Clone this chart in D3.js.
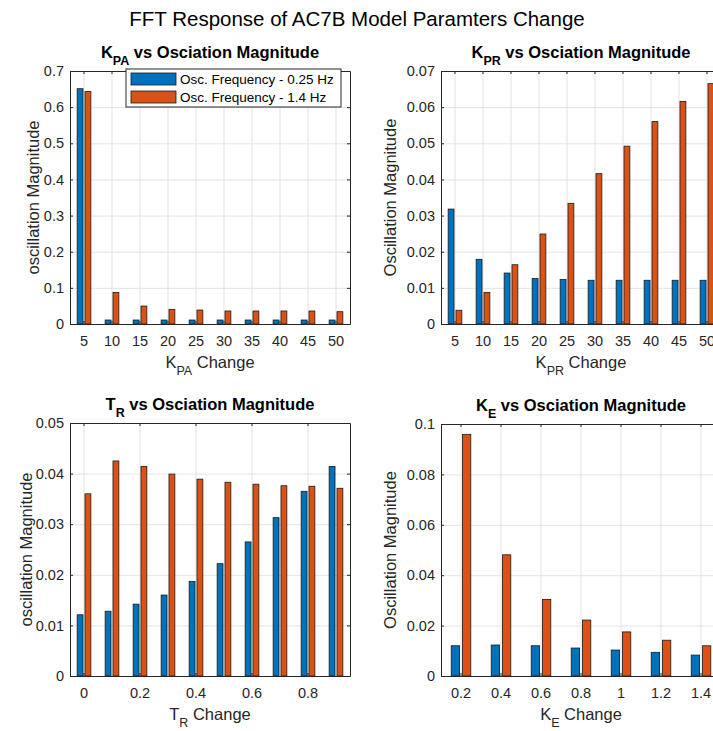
<!DOCTYPE html>
<html>
<head>
<meta charset="utf-8">
<script src="https://cdn.jsdelivr.net/npm/d3@7/dist/d3.min.js"></script>
<style>
  body { margin: 0; background: #fff; }
  text { font-family: "Liberation Sans", Arial, Helvetica, sans-serif; }
  .grid line { stroke: #e3e3e3; stroke-width: 1; }
  .grid path { display: none; }
  .ax path, .ax line { stroke: #262626; stroke-width: 1; }
  .ax text { fill: #262626; font-size: 14.5px; }
</style>
</head>
<body>
<script>
/* global d3 */

const width = 713
const height = 731
const colors = ['#0072BD', '#D95319']
const seriesNames = ['Osc. Frequency - 0.25 Hz', 'Osc. Frequency - 1.4 Hz']

// K_PA panel
const kpaCats = [5, 10, 15, 20, 25, 30, 35, 40, 45, 50]
const kpaLow = [0.651, 0.011, 0.011, 0.011, 0.011, 0.011, 0.011, 0.011, 0.011, 0.011]
const kpaHigh = [0.643, 0.0875, 0.0497, 0.0405, 0.0387, 0.036, 0.036, 0.036, 0.036, 0.034]
const kpaYTicks = [0, 0.1, 0.2, 0.3, 0.4, 0.5, 0.6, 0.7]

// K_PR panel
const kprCats = [5, 10, 15, 20, 25, 30, 35, 40, 45, 50]
const kprLow = [0.0318, 0.0179, 0.0141, 0.0126, 0.0123, 0.0121, 0.0121, 0.0121, 0.0121, 0.0121]
const kprHigh = [0.0038, 0.0087, 0.0164, 0.0249, 0.0334, 0.0416, 0.0492, 0.056, 0.0616, 0.0665]
const kprYTicks = [0, 0.01, 0.02, 0.03, 0.04, 0.05, 0.06, 0.07]

// T_R panel
const trCats = [0, 0.1, 0.2, 0.3, 0.4, 0.5, 0.6, 0.7, 0.8, 0.9]
const trLow = [0.0121, 0.0128, 0.0142, 0.016, 0.0187, 0.0222, 0.0265, 0.0313, 0.0365, 0.0414]
const trHigh = [0.036, 0.0425, 0.0414, 0.0399, 0.0389, 0.0383, 0.0379, 0.0376, 0.0375, 0.0371]
const trXTicks = [0, 0.2, 0.4, 0.6, 0.8]
const trYTicks = [0, 0.01, 0.02, 0.03, 0.04, 0.05]

// K_E panel
const keCats = [0.2, 0.4, 0.6, 0.8, 1, 1.2, 1.4]
const keLow = [0.012, 0.0123, 0.012, 0.0111, 0.0103, 0.0094, 0.0083]
const keHigh = [0.0959, 0.0481, 0.0304, 0.0222, 0.0175, 0.0142, 0.012]
const keYTicks = [0, 0.02, 0.04, 0.06, 0.08, 0.1]

const fmt = d3.format('~g')

const svg = d3.select('body').append('svg')
  .attr('width', width)
  .attr('height', height)

svg.append('rect').attr('width', width).attr('height', height).attr('fill', '#fff')

svg.append('text')
  .attr('x', 357)
  .attr('y', 26)
  .attr('text-anchor', 'middle')
  .style('font-size', '20.5px')
  .style('fill', '#000')
  .text('FFT Response of AC7B Model Paramters Change')

// text with a subscript: main, sub, rest
function subText (sel, parts, size, subSize) {
  sel.append('tspan').text(parts[0])
  sel.append('tspan').attr('dy', size * 0.4).style('font-size', subSize + 'px').text(parts[1])
  sel.append('tspan').attr('dy', -size * 0.4).text(parts[2])
}

function drawPanel (cfg) {
  const w = 280
  const h = cfg.h
  const g = svg.append('g').attr('transform', 'translate(' + cfg.left + ',' + cfg.top + ')')

  const x0 = d3.scaleBand().domain(cfg.cats).range([0, w])
    .paddingInner(0.51).paddingOuter(0.255)
  const x1 = d3.scaleBand().domain([0, 1]).range([0, x0.bandwidth()]).paddingInner(0.25)
  const y = d3.scaleLinear().domain([0, cfg.yMax]).range([h, 0])
  const xTicks = cfg.xTicks || cfg.cats

  // grid
  g.append('g').attr('class', 'grid')
    .call(d3.axisLeft(y).tickValues(cfg.yTicks).tickSize(-w).tickFormat(''))
  g.append('g').attr('class', 'grid')
    .attr('transform', 'translate(0,' + h + ')')
    .call(d3.axisBottom(x0).tickValues(xTicks).tickSize(-h).tickFormat(''))

  // bars
  const groups = g.selectAll('.grp')
    .data(cfg.cats.map(function (c, i) { return { cat: c, vals: [cfg.low[i], cfg.high[i]] } }))
    .enter().append('g')
    .attr('transform', function (d) { return 'translate(' + x0(d.cat) + ',0)' })
  groups.selectAll('rect')
    .data(function (d) { return d.vals.map(function (v, k) { return { k: k, v: v } }) })
    .enter().append('rect')
    .attr('x', function (d) { return x1(d.k) })
    .attr('width', x1.bandwidth())
    .attr('y', function (d) { return y(d.v) })
    .attr('height', function (d) { return h - y(d.v) })
    .attr('fill', function (d) { return colors[d.k] })
    .attr('stroke', '#1a1a1a')
    .attr('stroke-width', 0.8)

  // axes (ticks pointing inward, box on all sides)
  g.append('g').attr('class', 'ax')
    .call(d3.axisLeft(y).tickValues(cfg.yTicks).tickFormat(fmt)
      .tickSizeInner(-3).tickSizeOuter(0).tickPadding(6))
  g.append('g').attr('class', 'ax')
    .attr('transform', 'translate(' + w + ',0)')
    .call(d3.axisRight(y).tickValues(cfg.yTicks).tickFormat('')
      .tickSizeInner(-3).tickSizeOuter(0))
  g.append('g').attr('class', 'ax')
    .attr('transform', 'translate(0,' + h + ')')
    .call(d3.axisBottom(x0).tickValues(xTicks).tickFormat(fmt)
      .tickSizeInner(-3).tickSizeOuter(0).tickPadding(12))
  g.append('g').attr('class', 'ax')
    .call(d3.axisTop(x0).tickValues(xTicks).tickFormat('')
      .tickSizeInner(-3).tickSizeOuter(0))

  // title
  const t = g.append('text')
    .attr('x', w / 2)
    .attr('y', -13)
    .attr('text-anchor', 'middle')
    .style('font-size', '16.5px')
    .style('font-weight', 'bold')
    .style('fill', '#000')
  subText(t, [cfg.sym, cfg.sub, ' vs Osciation Magnitude'], 16.5, 12.5)

  // x label
  const xl = g.append('text')
    .attr('x', w / 2)
    .attr('y', h + 44)
    .attr('text-anchor', 'middle')
    .style('font-size', '16.5px')
    .style('fill', '#262626')
  subText(xl, [cfg.sym, cfg.sub, ' Change'], 16.5, 12.5)

  // y label
  g.append('text')
    .attr('transform', 'translate(' + cfg.yLabelX + ',' + (h / 2) + ') rotate(-90)')
    .attr('text-anchor', 'middle')
    .style('font-size', '16.5px')
    .style('fill', '#262626')
    .text(cfg.yLabel)

  return g
}

const tl = drawPanel({
  left: 70, top: 71, h: 253, cats: kpaCats, low: kpaLow, high: kpaHigh,
  yMax: 0.7, yTicks: kpaYTicks, sym: 'K', sub: 'PA',
  yLabel: 'oscillation Magnitude', yLabelX: -31
})

drawPanel({
  left: 441, top: 71, h: 253, cats: kprCats, low: kprLow, high: kprHigh,
  yMax: 0.07, yTicks: kprYTicks, sym: 'K', sub: 'PR',
  yLabel: 'Oscillation Magnitude', yLabelX: -45
})

drawPanel({
  left: 70, top: 423, h: 253, cats: trCats, low: trLow, high: trHigh,
  xTicks: trXTicks, yMax: 0.05, yTicks: trYTicks, sym: 'T', sub: 'R',
  yLabel: 'oscillation Magnitude', yLabelX: -38
})

drawPanel({
  left: 441, top: 424, h: 252, cats: keCats, low: keLow, high: keHigh,
  yMax: 0.1, yTicks: keYTicks, sym: 'K', sub: 'E',
  yLabel: 'Oscillation Magnitude', yLabelX: -45
})

// legend in the K_PA panel
const legend = tl.append('g').attr('transform', 'translate(56,-2)')
legend.append('rect')
  .attr('width', 215)
  .attr('height', 38)
  .attr('fill', '#fff')
  .attr('stroke', '#262626')
  .attr('stroke-width', 1)
const items = legend.selectAll('.item')
  .data(seriesNames)
  .enter().append('g')
  .attr('transform', function (d, i) { return 'translate(5,' + (4 + i * 18) + ')' })
items.append('rect')
  .attr('width', 45)
  .attr('height', 12)
  .attr('fill', function (d, i) { return colors[i] })
  .attr('stroke', '#1a1a1a')
  .attr('stroke-width', 0.8)
items.append('text')
  .attr('x', 49)
  .attr('y', 11)
  .style('font-size', '13.5px')
  .style('fill', '#000')
  .text(function (d) { return d })
</script>
</body>
</html>
